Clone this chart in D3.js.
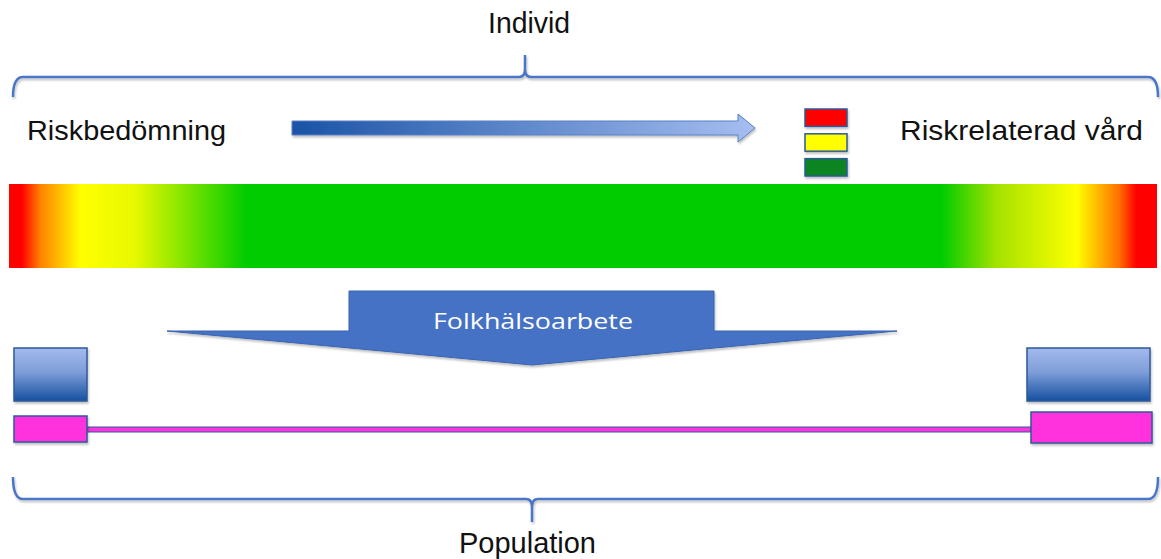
<!DOCTYPE html>
<html>
<head>
<meta charset="utf-8">
<script src="https://cdn.jsdelivr.net/npm/d3@7"></script>
<style>
  html, body { margin: 0; padding: 0; background: #fff; }
  svg { display: block; }
</style>
</head>
<body>
<svg id="chart" width="1161" height="559"></svg>
<script>
// ---------- data ----------
const topLabel = "Individ";
const bottomLabel = "Population";
const leftLabel = "Riskbedömning";
const rightLabel = "Riskrelaterad vård";
const arrowLabel = "Folkhälsoarbete";
const riskLevels = ["high", "medium", "low"];
const riskColors = ["#FF0000", "#FFFF00", "#0A8422"];
// risk gradient across the population (position 0..1 -> colour)
const gradientPos = [0, 0.011, 0.027, 0.062, 0.11, 0.207, 0.812, 0.86, 0.93, 0.967, 0.982, 1];
const gradientCol = ["#FF0000", "#FF0000", "#FF8000", "#FFFF00", "#E8F800", "#00CC00", "#00CC00", "#A4E200", "#FFFF00", "#FF7000", "#FF0000", "#FF0000"];
const groups = ["left", "right"];

// ---------- layout ----------
const svg = d3.select("#chart");
const W = 1161, H = 559;
const x = d3.scaleLinear().domain([0, 1]).range([9, 1157]);
const defs = svg.append("defs");

// bar gradient
const bg = defs.append("linearGradient").attr("id", "riskGrad")
  .attr("x1", "0%").attr("x2", "100%").attr("y1", "0%").attr("y2", "0%");
bg.selectAll("stop").data(gradientPos).join("stop")
  .attr("offset", d => d)
  .attr("stop-color", (d, i) => gradientCol[i]);

// arrow gradient
const ag = defs.append("linearGradient").attr("id", "arrowGrad")
  .attr("x1", "0%").attr("x2", "100%");
ag.append("stop").attr("offset", 0).attr("stop-color", "#1A53A6");
ag.append("stop").attr("offset", 1).attr("stop-color", "#A6BEF0");

// box gradient (vertical)
const vg = defs.append("linearGradient").attr("id", "boxGrad")
  .attr("x1", "0%").attr("x2", "0%").attr("y1", "0%").attr("y2", "100%");
vg.append("stop").attr("offset", 0).attr("stop-color", "#A3B9EC");
vg.append("stop").attr("offset", 0.45).attr("stop-color", "#7F9ED9");
vg.append("stop").attr("offset", 1).attr("stop-color", "#1550A0");

const shadow = defs.append("filter").attr("id", "sh").attr("x", "-10%").attr("y", "-10%").attr("width", "130%").attr("height", "140%");
shadow.append("feDropShadow").attr("dx", 1).attr("dy", 2).attr("stdDeviation", 1.2).attr("flood-color", "#000").attr("flood-opacity", 0.25);

const textFont = "'Liberation Sans', Arial, sans-serif";

// ---------- braces ----------
const braceColor = "#4A76C6";
function brace(x0, x1, xm, yEnd, yLine, yTip) {
  const p = d3.path();
  const dir = Math.sign(yTip - yLine);
  p.moveTo(x0, yEnd);
  p.quadraticCurveTo(x0, yLine, x0 + 10, yLine);
  p.lineTo(xm - 6, yLine);
  p.quadraticCurveTo(xm, yLine, xm, yLine + dir * 8);
  p.lineTo(xm, yTip);
  p.moveTo(xm, yLine + dir * 8);
  p.quadraticCurveTo(xm, yLine, xm + 6, yLine);
  p.lineTo(x1 - 10, yLine);
  p.quadraticCurveTo(x1, yLine, x1, yEnd);
  return p.toString();
}
svg.append("path").attr("d", brace(13, 1158, 525, 97, 77, 55))
  .attr("fill", "none").attr("stroke", braceColor).attr("stroke-width", 2.5).attr("filter", "url(#sh)");
svg.append("path").attr("d", brace(13, 1158, 532, 477, 499, 522))
  .attr("fill", "none").attr("stroke", braceColor).attr("stroke-width", 2.5).attr("filter", "url(#sh)");

// ---------- labels ----------
function label(t, xx, yy, len, anchor, size) {
  svg.append("text").text(t).attr("x", xx).attr("y", yy)
    .attr("font-family", textFont).attr("font-size", size)
    .attr("fill", "#111").attr("text-anchor", anchor || "start")
    .attr("textLength", len).attr("lengthAdjust", "spacingAndGlyphs");
}
label(topLabel, 488, 33, 82, "start", 29);
label(leftLabel, 27, 140, 199, "start", 28);
label(rightLabel, 900, 140, 243, "start", 28);
label(bottomLabel, 459, 553, 137, "start", 29);

// ---------- process arrow ----------
const arr = d3.path();
arr.moveTo(292, 121); arr.lineTo(738, 121); arr.lineTo(738, 114); arr.lineTo(755, 128);
arr.lineTo(738, 142); arr.lineTo(738, 135); arr.lineTo(292, 135); arr.closePath();
svg.append("path").attr("d", arr.toString()).attr("fill", "url(#arrowGrad)")
  .attr("stroke", "#5A80C4").attr("stroke-width", 1).attr("filter", "url(#sh)");

// ---------- risk level boxes ----------
const ry = d3.scaleBand().domain(riskLevels).range([109, 176]).paddingInner(0.3);
svg.selectAll("rect.risk").data(riskLevels).join("rect").attr("class", "risk")
  .attr("x", 805).attr("width", 42)
  .attr("y", d => ry(d)).attr("height", ry.bandwidth())
  .attr("fill", (d, i) => riskColors[i])
  .attr("stroke", "#2C5A9A").attr("stroke-width", 1.5).attr("filter", "url(#sh)");

// ---------- gradient bar ----------
svg.append("rect").attr("x", x(0)).attr("y", 184).attr("width", x(1) - x(0)).attr("height", 84)
  .attr("fill", "url(#riskGrad)");

// ---------- Folkhälsoarbete arrow ----------
const fa = d3.path();
fa.moveTo(349, 291); fa.lineTo(714, 291); fa.lineTo(714, 331); fa.lineTo(897, 331);
fa.lineTo(532, 365); fa.lineTo(167, 331); fa.lineTo(349, 331); fa.closePath();
svg.append("path").attr("d", fa.toString()).attr("fill", "#4472C4")
  .attr("stroke", "#3A64B0").attr("stroke-width", 1).attr("filter", "url(#sh)");
svg.append("text").text(arrowLabel).attr("x", 533).attr("y", 329)
  .attr("text-anchor", "middle").attr("font-family", "'Open Sans', Lato, sans-serif")
  .attr("font-size", 22).attr("fill", "#fff")
  .attr("textLength", 200).attr("lengthAdjust", "spacingAndGlyphs");

// ---------- population boxes ----------
const boxX = { left: [14, 87], right: [1027, 1150] };
const pinkX = { left: [14, 87], right: [1031, 1152] };
const pinkY = { left: [416, 442], right: [412, 443] };

// connecting line
svg.append("rect").attr("x", 87).attr("y", 427).attr("width", 1031 - 87).attr("height", 5)
  .attr("fill", "#FF33DD").attr("stroke", "#2C5A9A").attr("stroke-width", 1);

svg.selectAll("rect.blue").data(groups).join("rect").attr("class", "blue")
  .attr("x", d => boxX[d][0]).attr("width", d => boxX[d][1] - boxX[d][0])
  .attr("y", 348).attr("height", 53)
  .attr("fill", "url(#boxGrad)").attr("stroke", "#2C5A9A").attr("stroke-width", 1.5)
  .attr("filter", "url(#sh)");

svg.selectAll("rect.pink").data(groups).join("rect").attr("class", "pink")
  .attr("x", d => pinkX[d][0]).attr("width", d => pinkX[d][1] - pinkX[d][0])
  .attr("y", d => pinkY[d][0]).attr("height", d => pinkY[d][1] - pinkY[d][0])
  .attr("fill", "#FF33DD").attr("stroke", "#2C5A9A").attr("stroke-width", 1.5)
  .attr("filter", "url(#sh)");
</script>
</body>
</html>
